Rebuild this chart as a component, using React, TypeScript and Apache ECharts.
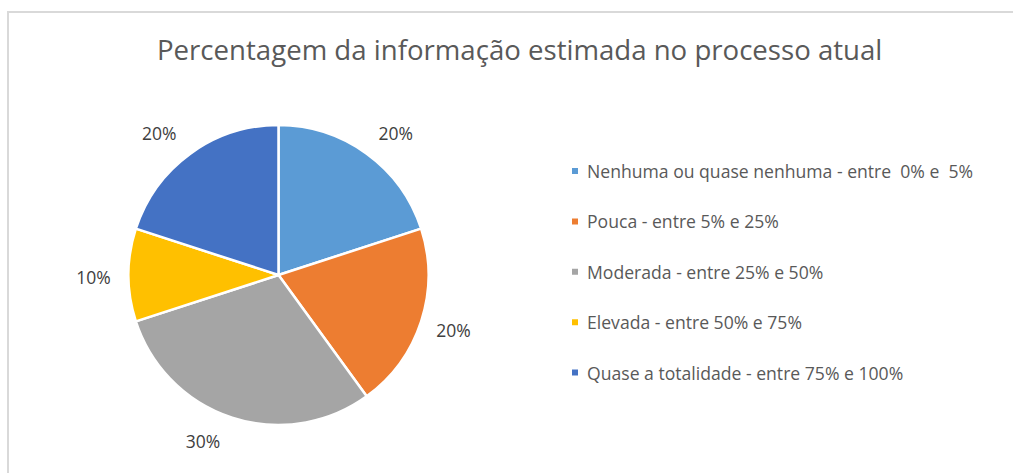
import React, { useEffect, useRef } from "react";
import * as echarts from "echarts";

const titleText = "Percentagem da informação estimada no processo atual";
const categories = [
  "Nenhuma ou quase nenhuma - entre  0% e  5%",
  "Pouca - entre 5% e 25%",
  "Moderada - entre 25% e 50%",
  "Elevada - entre 50% e 75%",
  "Quase a totalidade - entre 75% e 100%",
];
const values = [20, 20, 30, 10, 20];
const colors = ["#5B9BD5", "#ED7D31", "#A5A5A5", "#FFC000", "#4472C4"];
// small nudges of the data labels (style only)
const labelOffsets = [
  [8, 8],
  [-2, -2],
  [-18, -11],
  [1, 2],
  [-10, 8],
];

export default function App() {
  const ref = useRef<HTMLDivElement>(null);
  useEffect(() => {
    if (!ref.current) return;
    const chart = echarts.init(ref.current, undefined, { renderer: "svg" });
    const data = categories.map((name, i) => ({ name, value: values[i] }));
    const labelData = categories.map((name, i) => ({
      name,
      value: values[i],
      label: { offset: labelOffsets[i] },
    }));
    const font = "'Open Sans', 'Noto Sans', sans-serif";
    chart.setOption({
      animation: false,
      backgroundColor: "#ffffff",
      color: colors,
      title: {
        text: titleText,
        left: 152,
        top: 30,
        textStyle: {
          fontFamily: font,
          fontSize: 27.6,
          fontWeight: "normal",
          color: "#595959",
        },
      },
      legend: {
        orient: "vertical",
        left: 565,
        top: 157,
        itemWidth: 8,
        itemHeight: 8,
        itemGap: 32.4,
        icon: "rect",
        data: categories,
        textStyle: {
          fontFamily: font,
          fontSize: 17.6,
          lineHeight: 17.5,
          color: "#595959",
          padding: [0, 0, 0, 3],
        },
      },
      graphic: [
        {
          type: "rect",
          shape: { x: 8, y: 12, width: 1100, height: 600 },
          style: { fill: "none", stroke: "#d9d9d9", lineWidth: 2 },
          silent: true,
        },
      ],
      series: [
        {
          type: "pie",
          center: [278.5, 275],
          radius: [0, 150],
          startAngle: 90,
          clockwise: true,
          data,
          label: { show: false },
          labelLine: { show: false },
          itemStyle: { borderColor: "#ffffff", borderWidth: 2.5 },
          emphasis: { disabled: true },
          silent: true,
        },
        {
          type: "pie",
          center: [278.5, 275],
          radius: [150, 216],
          startAngle: 90,
          clockwise: true,
          data: labelData,
          itemStyle: { color: "transparent", borderWidth: 0 },
          label: {
            show: true,
            position: "inside",
            formatter: (p: any) => `${p.value}%`,
            fontFamily: font,
            fontSize: 17.5,
            color: "#404040",
          },
          labelLine: { show: false },
          emphasis: { disabled: true },
          silent: true,
        },
      ],
    });
    return () => chart.dispose();
  }, []);
  return (
    <div
      ref={ref}
      style={{ position: "fixed", left: 0, top: 0, width: 1013, height: 473 }}
    />
  );
}
